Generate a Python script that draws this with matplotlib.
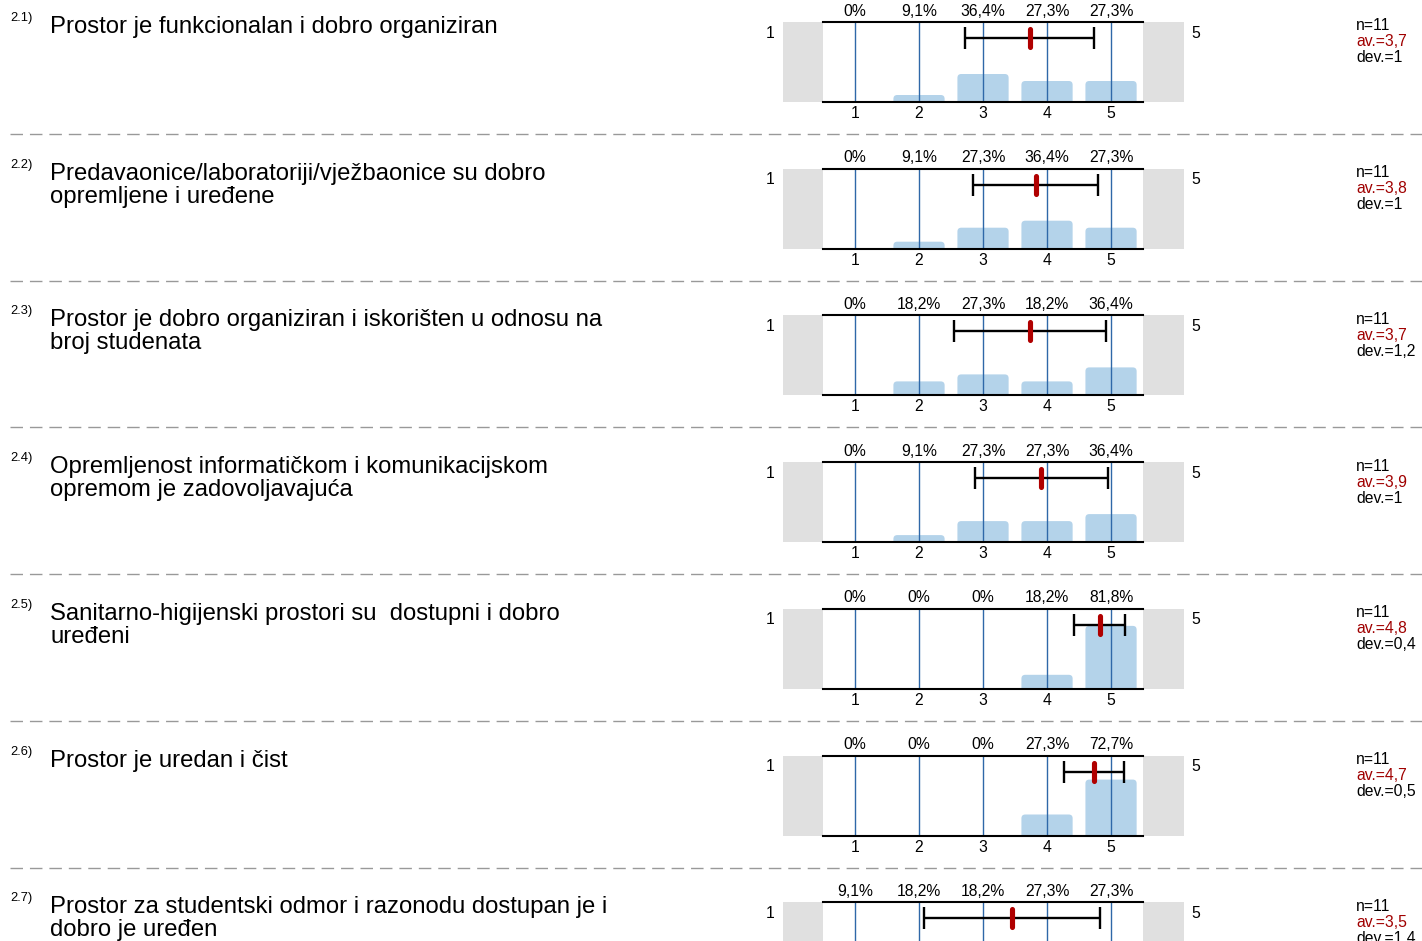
"""Survey result strips: per-question answer distribution (1-5), mean and
deviation bar, with the question text on the left and n/av./dev. on the right."""
import matplotlib
matplotlib.use("Agg")
import matplotlib.pyplot as plt  # noqa: E402
from matplotlib.patches import FancyBboxPatch  # noqa: E402

numbers = ["2.1)", "2.2)", "2.3)", "2.4)", "2.5)", "2.6)", "2.7)"]
questions = [
    "Prostor je funkcionalan i dobro organiziran",
    "Predavaonice/laboratoriji/vježbaonice su dobro\nopremljene i uređene",
    "Prostor je dobro organiziran i iskorišten u odnosu na\nbroj studenata",
    "Opremljenost informatičkom i komunikacijskom\nopremom je zadovoljavajuća",
    "Sanitarno-higijenski prostori su  dostupni i dobro\nuređeni",
    "Prostor je uredan i čist",
    "Prostor za studentski odmor i razonodu dostupan je i\ndobro je uređen",
]
pct = [
    [0, 9.1, 36.4, 27.3, 27.3],
    [0, 9.1, 27.3, 36.4, 27.3],
    [0, 18.2, 27.3, 18.2, 36.4],
    [0, 9.1, 27.3, 27.3, 36.4],
    [0, 0, 0, 18.2, 81.8],
    [0, 0, 0, 27.3, 72.7],
    [9.1, 18.2, 18.2, 27.3, 27.3],
]
n_resp = [11, 11, 11, 11, 11, 11, 11]
means = [3.73, 3.82, 3.73, 3.91, 4.82, 4.73, 3.45]
devs = [1.01, 0.98, 1.19, 1.04, 0.40, 0.47, 1.37]
av_labels = ["3,7", "3,8", "3,7", "3,9", "4,8", "4,7", "3,5"]
dev_labels = ["1", "1", "1,2", "1", "0,4", "0,5", "1,4"]
scale = [1, 2, 3, 4, 5]

W, H = 1422, 941
STEP = 146.7
BAR, LINE, GRAY = "#b4d3ea", "#2f68a8", "#e0e0e0"
RED, DARKRED = "#b00000", "#a00000"
PX = 104.0 / 80  # y data units per pixel inside a strip
plt.rcParams.update({"font.family": ["Liberation Sans", "DejaVu Sans"]})


def fx(x):
    return x / W


def fy(y):
    return 1 - y / H


def main():
    fig = plt.figure(figsize=(W / 100, H / 100), dpi=100)
    ytop = 104.0
    for i in range(len(questions)):
        top = 22 + i * STEP
        ax = fig.add_axes([fx(783), fy(top + 80), (1184 - 783) / W, 80 / H])
        ax.set_xlim(-0.125, 6.14)
        ax.set_ylim(0, ytop)
        ax.axis("off")
        ax.axvspan(-0.125, 0.5, color=GRAY, lw=0)
        ax.axvspan(5.5, 6.14, color=GRAY, lw=0)
        for v, p in zip(scale, pct[i]):
            if p > 0:
                ax.add_patch(FancyBboxPatch(
                    (v - 0.4, -6), 0.8, p + 6,
                    boxstyle="round,pad=0,rounding_size=0.06",
                    mutation_aspect=83, fc=BAR, ec="none", zorder=1))
            ax.axvline(v, color=LINE, lw=1.0, zorder=2)
            ax.text(v, ytop + 11 * PX, f"{p:g}%".replace(".", ","),
                    ha="center", va="center", fontsize=11.3, clip_on=False)
            if top + 91 < H:
                ax.text(v, -11.5 * PX, str(v), ha="center", va="center",
                        fontsize=11.3, clip_on=False)
        ax.plot([0.5, 5.5], [0, 0], color="black", lw=1.5, zorder=3,
                clip_on=False)
        ax.plot([0.5, 5.5], [ytop, ytop], color="black", lw=1.5, zorder=3,
                clip_on=False)
        yb = ytop - 16 * PX
        ax.errorbar(means[i], yb, xerr=devs[i], color="black", lw=1.7,
                    capsize=8, capthick=1.7, zorder=4)
        ax.plot([means[i], means[i]], [yb - 9 * PX, yb + 9 * PX], color=RED,
                lw=3.7, solid_capstyle="round", zorder=5)
        ax.text(-0.33, ytop - 11 * PX, "1", ha="center", va="center",
                fontsize=11.3, clip_on=False)
        ax.text(6.33, ytop - 11 * PX, "5", ha="center", va="center",
                fontsize=11.3, clip_on=False)

        fig.text(fx(10), fy(top - 4), numbers[i], fontsize=9.3,
                 ha="left", va="center")
        fig.text(fx(50), fy(top - 6), questions[i], fontsize=17.2,
                 ha="left", va="top", linespacing=1.05)
        fig.text(fx(1356), fy(top + 4), f"n={n_resp[i]}", fontsize=11.3,
                 ha="left", va="center")
        fig.text(fx(1356), fy(top + 20), f"av.={av_labels[i]}",
                 fontsize=11.3, ha="left", va="center", color=DARKRED)
        fig.text(fx(1356), fy(top + 36), f"dev.={dev_labels[i]}",
                 fontsize=11.3, ha="left", va="center")
        if i < len(questions) - 1:
            ys = fy(top + 112)
            fig.add_artist(plt.Line2D([fx(10), 1], [ys, ys], color="#999999",
                                      lw=1, dashes=(9, 5)))
    fig.savefig("out.png", dpi=100)


if __name__ == "__main__":
    main()
